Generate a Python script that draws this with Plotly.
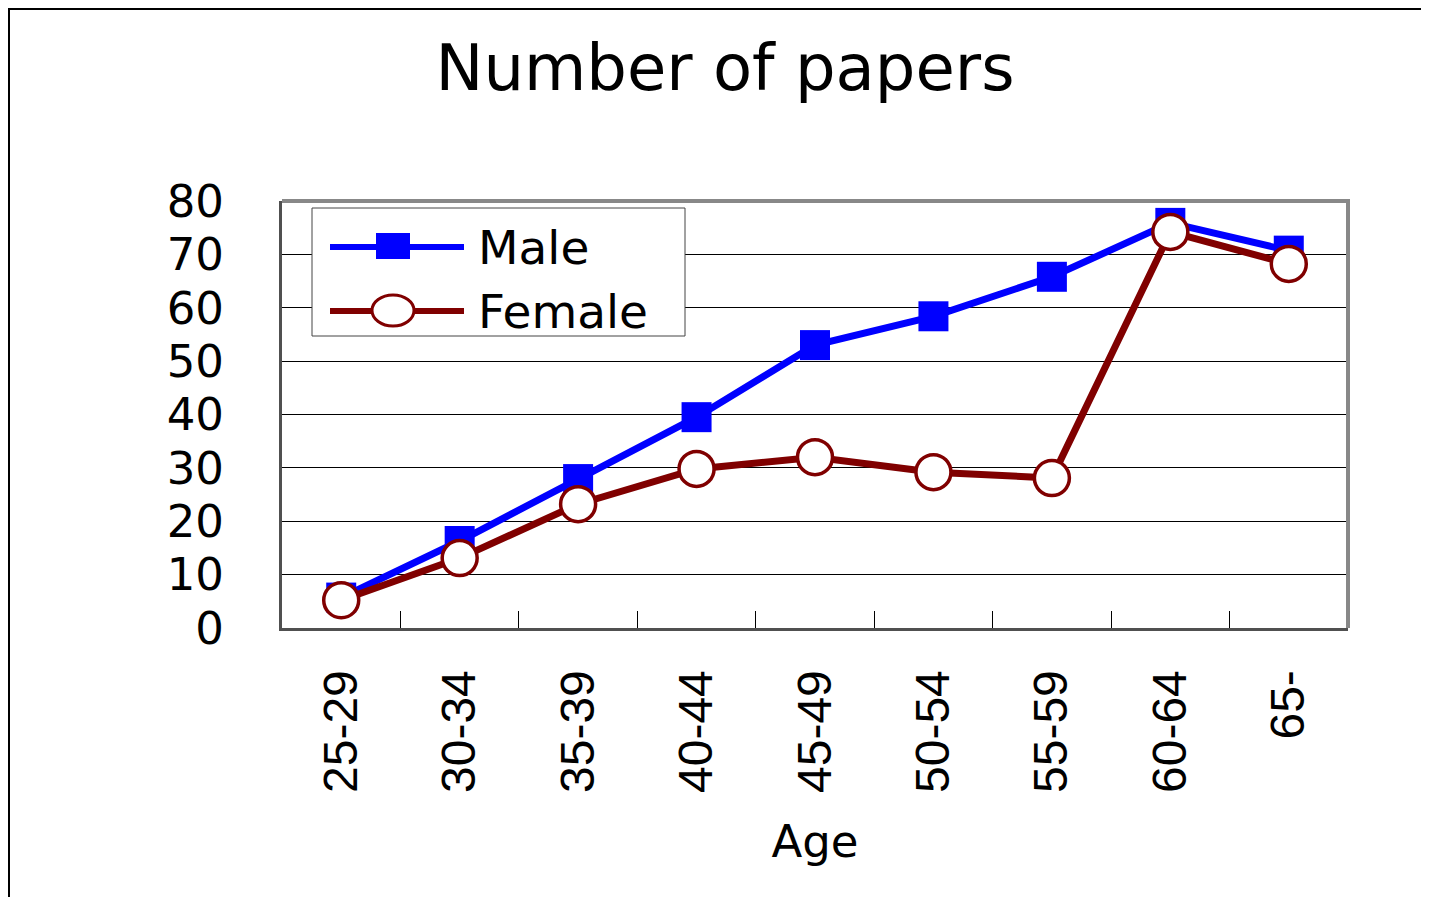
import plotly.graph_objects as go

ages = ["25-29", "30-34", "35-39", "40-44", "45-49", "50-54", "55-59", "60-64", "65-"]
male = [5.7, 16.3, 27.9, 39.5, 53.0, 58.4, 65.8, 75.9, 70.7]
female = [5.2, 13.1, 23.2, 29.8, 32.0, 29.2, 28.1, 74.2, 68.2]
y_ticks = [0, 10, 20, 30, 40, 50, 60, 70, 80]

OFF = 8  # page body margin
W, H = 1429 - OFF, 897 - OFF
L, R, T, B = 282 - OFF, 1348 - OFF, 201 - OFF, 628 - OFF
BLUE = "#0000FF"
RED = "#800000"
FONT = "DejaVu Sans"


def px(x):
    return (x - OFF - L) / (R - L)


def py(y):
    return (B - (y - OFF)) / (B - T)


fig = go.Figure()
fig.add_trace(go.Scatter(
    x=ages, y=male, name="Male", mode="lines+markers",
    line=dict(color=BLUE, width=7),
    marker=dict(symbol="square", size=30, color=BLUE, line=dict(width=0)),
    showlegend=False,
))
fig.add_trace(go.Scatter(
    x=ages, y=female, name="Female", mode="lines+markers",
    line=dict(color=RED, width=7),
    marker=dict(symbol="circle", size=35, color="white", line=dict(color=RED, width=3.5)),
    showlegend=False,
))

shapes = []
# outer frame (left and top edges)
shapes.append(dict(type="path", xref="paper", yref="paper",
                   path=f"M {px(9)} {py(920)} L {px(9)} {py(9)} L {px(1450)} {py(9)}",
                   line=dict(color="black", width=2)))
# lighter top/right plot border
shapes.append(dict(type="path", xref="paper", yref="paper",
                   path="M 0 1 L 1 1 L 1 0",
                   line=dict(color="#888888", width=4), layer="above"))
# custom legend
shapes.append(dict(type="rect", xref="paper", yref="paper",
                   x0=px(312), x1=px(685), y0=py(208), y1=py(336),
                   fillcolor="white", line=dict(color="#444444", width=1), layer="above"))
shapes.append(dict(type="line", xref="paper", yref="paper",
                   x0=px(330), x1=px(464), y0=py(247), y1=py(247),
                   line=dict(color=BLUE, width=6), layer="above"))
shapes.append(dict(type="rect", xref="paper", yref="paper",
                   x0=px(376), x1=px(410), y0=py(233), y1=py(259),
                   fillcolor=BLUE, line=dict(width=0), layer="above"))
shapes.append(dict(type="line", xref="paper", yref="paper",
                   x0=px(330), x1=px(464), y0=py(311), y1=py(311),
                   line=dict(color=RED, width=6), layer="above"))
shapes.append(dict(type="circle", xref="paper", yref="paper",
                   x0=px(372), x1=px(414), y0=py(295), y1=py(326),
                   fillcolor="white", line=dict(color=RED, width=3), layer="above"))

annotations = [
    dict(text="Male", xref="paper", yref="paper", x=px(476), y=py(247),
         xanchor="left", yanchor="middle", showarrow=False,
         font=dict(family=FONT, size=47, color="black")),
    dict(text="Female", xref="paper", yref="paper", x=px(476), y=py(311),
         xanchor="left", yanchor="middle", showarrow=False,
         font=dict(family=FONT, size=47, color="black")),
]

fig.update_layout(
    width=W, height=H,
    margin=dict(l=L, r=W - R, t=T, b=H - B, autoexpand=False),
    paper_bgcolor="white", plot_bgcolor="white",
    title=dict(text="Number of papers", x=(725 - OFF) / W, xref="container", xanchor="center",
               y=1 - (68 - OFF) / H, yref="container", yanchor="middle",
               font=dict(family=FONT, size=64, color="black")),
    shapes=shapes,
    annotations=annotations,
    showlegend=False,
)
fig.update_xaxes(
    type="category", range=[-0.5, len(ages) - 0.5],
    showline=True, linecolor="#505050", linewidth=3, mirror=False,
    showgrid=False, zeroline=False,
    ticks="inside", tickson="boundaries", ticklen=17, tickcolor="black", tickwidth=1,
    tickangle=-90, ticklabelstandoff=20,
    tickfont=dict(family="Liberation Sans", size=48, color="black"),
    title=dict(text="Age", standoff=34, font=dict(family=FONT, size=45, color="black")),
    automargin=False,
)
fig.update_yaxes(
    range=[0, 80], tickvals=y_ticks,
    showline=True, linecolor="#505050", linewidth=3, mirror=False,
    showgrid=True, gridcolor="black", gridwidth=1, zeroline=False,
    ticks="inside", ticklen=22, tickcolor="black", tickwidth=1,
    ticklabelstandoff=46,
    tickfont=dict(family=FONT, size=45, color="black"),
    automargin=False,
)

fig.write_html("out.html")
